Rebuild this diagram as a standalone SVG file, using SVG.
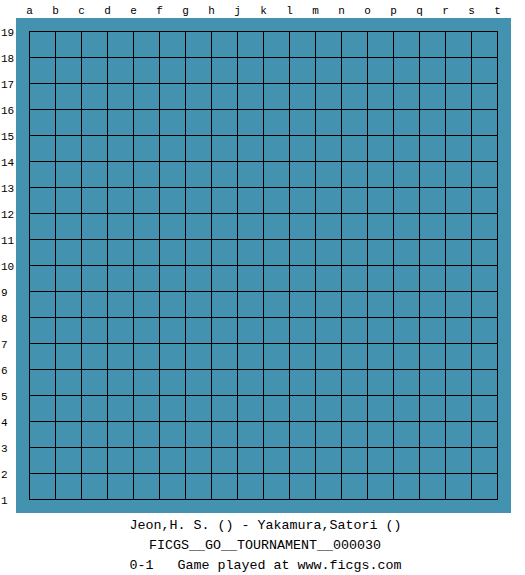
<svg xmlns="http://www.w3.org/2000/svg" width="525" height="575" viewBox="0 0 525 575">
<style>
.lbl{font-family:"Liberation Mono","DejaVu Sans Mono",monospace;font-size:11px;fill:#000}
.col{text-anchor:middle}
.info{font-family:"Liberation Mono","DejaVu Sans Mono",monospace;font-size:13.33px;fill:#000;text-anchor:middle}
.grid{stroke:#000;stroke-width:1;fill:none}
</style>
<rect width="525" height="575" fill="#fff"/>
<rect id="board" x="16" y="18" width="495" height="495" fill="#4393b0"/>
<g id="grid" class="grid">
<path d="M29.5 31.5V499.5M55.5 31.5V499.5M81.5 31.5V499.5M107.5 31.5V499.5M133.5 31.5V499.5M159.5 31.5V499.5M185.5 31.5V499.5M211.5 31.5V499.5M237.5 31.5V499.5M263.5 31.5V499.5M289.5 31.5V499.5M315.5 31.5V499.5M341.5 31.5V499.5M367.5 31.5V499.5M393.5 31.5V499.5M419.5 31.5V499.5M445.5 31.5V499.5M471.5 31.5V499.5M497.5 31.5V499.5"/>
<path d="M29 31.5H498M29 57.5H498M29 83.5H498M29 109.5H498M29 135.5H498M29 161.5H498M29 187.5H498M29 213.5H498M29 239.5H498M29 265.5H498M29 291.5H498M29 317.5H498M29 343.5H498M29 369.5H498M29 395.5H498M29 421.5H498M29 447.5H498M29 473.5H498M29 499.5H498"/>
</g>
<g id="columns" class="lbl col">
<text x="29.5" y="14">a</text><text x="55.5" y="14">b</text><text x="81.5" y="14">c</text><text x="107.5" y="14">d</text><text x="133.5" y="14">e</text><text x="159.5" y="14">f</text><text x="185.5" y="14">g</text><text x="211.5" y="14">h</text><text x="237.5" y="14">j</text><text x="263.5" y="14">k</text><text x="289.5" y="14">l</text><text x="315.5" y="14">m</text><text x="341.5" y="14">n</text><text x="367.5" y="14">o</text><text x="393.5" y="14">p</text><text x="419.5" y="14">q</text><text x="445.5" y="14">r</text><text x="471.5" y="14">s</text><text x="497.5" y="14">t</text>
</g>
<g id="rows" class="lbl">
<text x="1" y="36">19</text><text x="1" y="62">18</text><text x="1" y="88">17</text><text x="1" y="114">16</text><text x="1" y="140">15</text><text x="1" y="166">14</text><text x="1" y="192">13</text><text x="1" y="218">12</text><text x="1" y="244">11</text><text x="1" y="270">10</text><text x="1" y="296">9</text><text x="1" y="322">8</text><text x="1" y="348">7</text><text x="1" y="374">6</text><text x="1" y="400">5</text><text x="1" y="426">4</text><text x="1" y="452">3</text><text x="1" y="478">2</text><text x="1" y="504">1</text>
</g>
<g id="info" class="info">
<text x="265.5" y="529" xml:space="preserve">Jeon,H. S. () - Yakamura,Satori ()</text>
<text x="265" y="549" xml:space="preserve">FICGS__GO__TOURNAMENT__000030</text>
<text x="265.5" y="569" xml:space="preserve">0-1   Game played at www.ficgs.com</text>
</g>
</svg>
